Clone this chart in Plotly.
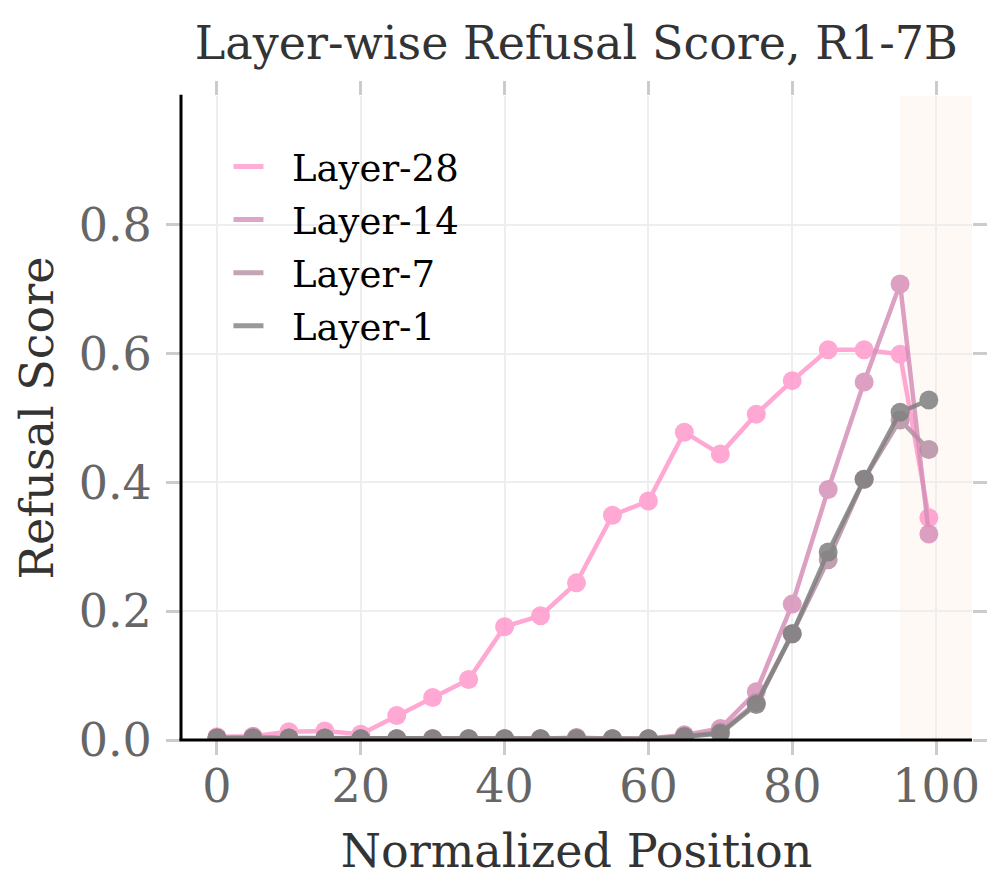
import plotly.graph_objects as go

positions = [0, 5, 10, 15, 20, 25, 30, 35, 40, 45, 50, 55, 60, 65, 70, 75, 80, 85, 90, 95, 99]

layer28 = [0.005, 0.006, 0.013, 0.014, 0.009, 0.038, 0.066, 0.094, 0.176, 0.193, 0.244, 0.349,
           0.371, 0.478, 0.444, 0.506, 0.558, 0.606, 0.606, 0.599, 0.345]
layer14 = [0.003, 0.005, 0.003, 0.003, 0.002, 0.002, 0.002, 0.002, 0.002, 0.002, 0.004, 0.002,
           0.002, 0.008, 0.018, 0.075, 0.211, 0.389, 0.556, 0.708, 0.320]
layer7 = [0.003, 0.003, 0.003, 0.003, 0.002, 0.002, 0.002, 0.002, 0.002, 0.002, 0.003, 0.002,
          0.002, 0.006, 0.012, 0.058, 0.165, 0.280, 0.405, 0.497, 0.451]
layer1 = [0.003, 0.003, 0.003, 0.003, 0.002, 0.002, 0.002, 0.002, 0.002, 0.002, 0.002, 0.002,
          0.002, 0.005, 0.010, 0.055, 0.165, 0.292, 0.405, 0.509, 0.528]

series = [
    ("Layer-28", layer28, "#FF99CC"),
    ("Layer-14", layer14, "#D690B8"),
    ("Layer-7", layer7, "#B48FA3"),
    ("Layer-1", layer1, "#808080"),
]

x_ticks = [0, 20, 40, 60, 80, 100]
y_ticks = [0.0, 0.2, 0.4, 0.6, 0.8]
y_tick_text = ["0.0", "0.2", "0.4", "0.6", "0.8"]

FONT = "DejaVu Serif"

fig = go.Figure()
for name, vals, col in series:
    fig.add_trace(go.Scatter(
        x=positions, y=vals, name=name, mode="lines+markers",
        line=dict(color=col, width=4.5),
        marker=dict(color=col, size=19),
        opacity=0.85, showlegend=False,
    ))
# legend entries (line-only symbols)
for name, vals, col in series:
    fig.add_trace(go.Scatter(
        x=[None], y=[None], name="\u00a0\u00a0" + name, mode="lines",
        line=dict(color=col, width=5), opacity=0.8,
        legendgroup=name, showlegend=True,
    ))

# highlighted end region
fig.add_vrect(x0=95, x1=105, fillcolor="#FFF9F5", line_width=0, layer="below")
# legend background box
fig.add_shape(type="rect", xref="paper", yref="paper", x0=0.024, x1=0.394, y0=0.548, y1=0.97,
              fillcolor="white", line_width=0, layer="between")
# left and bottom axis lines
fig.add_shape(type="line", xref="paper", yref="paper", x0=0, x1=0, y0=0, y1=1.002,
              line=dict(color="black", width=3), layer="above")
fig.add_shape(type="line", xref="paper", yref="paper", x0=-0.002, x1=1.0, y0=0, y1=0,
              line=dict(color="black", width=3), layer="above")

fig.update_layout(
    width=997, height=893,
    margin=dict(l=173, r=33, t=88, b=161),
    paper_bgcolor="white", plot_bgcolor="white",
    font=dict(family=FONT, color="#333333"),
    title=dict(text="Layer-wise Refusal Score, R1-7B", x=0.570, xanchor="center",
               y=0.961, yanchor="middle", yref="container",
               font=dict(family=FONT, size=46, color="#333333")),
    showlegend=True,
    legend=dict(x=0.060, y=0.938, xanchor="left", yanchor="top", bgcolor="rgba(0,0,0,0)",
                font=dict(family=FONT, size=37, color="black"), tracegroupgap=2),
)
fig.update_xaxes(
    range=[-5, 105], tickvals=x_ticks, showline=False, mirror="ticks",
    ticks="outside", ticklen=14, tickwidth=3, tickcolor="#CCCCCC",
    showgrid=True, gridcolor="#EEEEEE", gridwidth=2, zeroline=False,
    tickfont=dict(family=FONT, size=46, color="#666666"), ticklabelstandoff=-8,
    title=dict(text="Normalized Position", font=dict(family=FONT, size=46, color="#333333"), standoff=22),
)
fig.update_yaxes(
    range=[0, 1.0], tickvals=y_ticks, ticktext=y_tick_text, showline=False, mirror="ticks",
    ticks="outside", ticklen=14, tickwidth=3, tickcolor="#CCCCCC",
    showgrid=True, gridcolor="#EEEEEE", gridwidth=2, zeroline=False,
    tickfont=dict(family=FONT, size=46, color="#666666"), ticklabelstandoff=5,
    title=dict(text="Refusal Score", font=dict(family=FONT, size=46, color="#333333"), standoff=10),
)

fig.write_html("out.html")
